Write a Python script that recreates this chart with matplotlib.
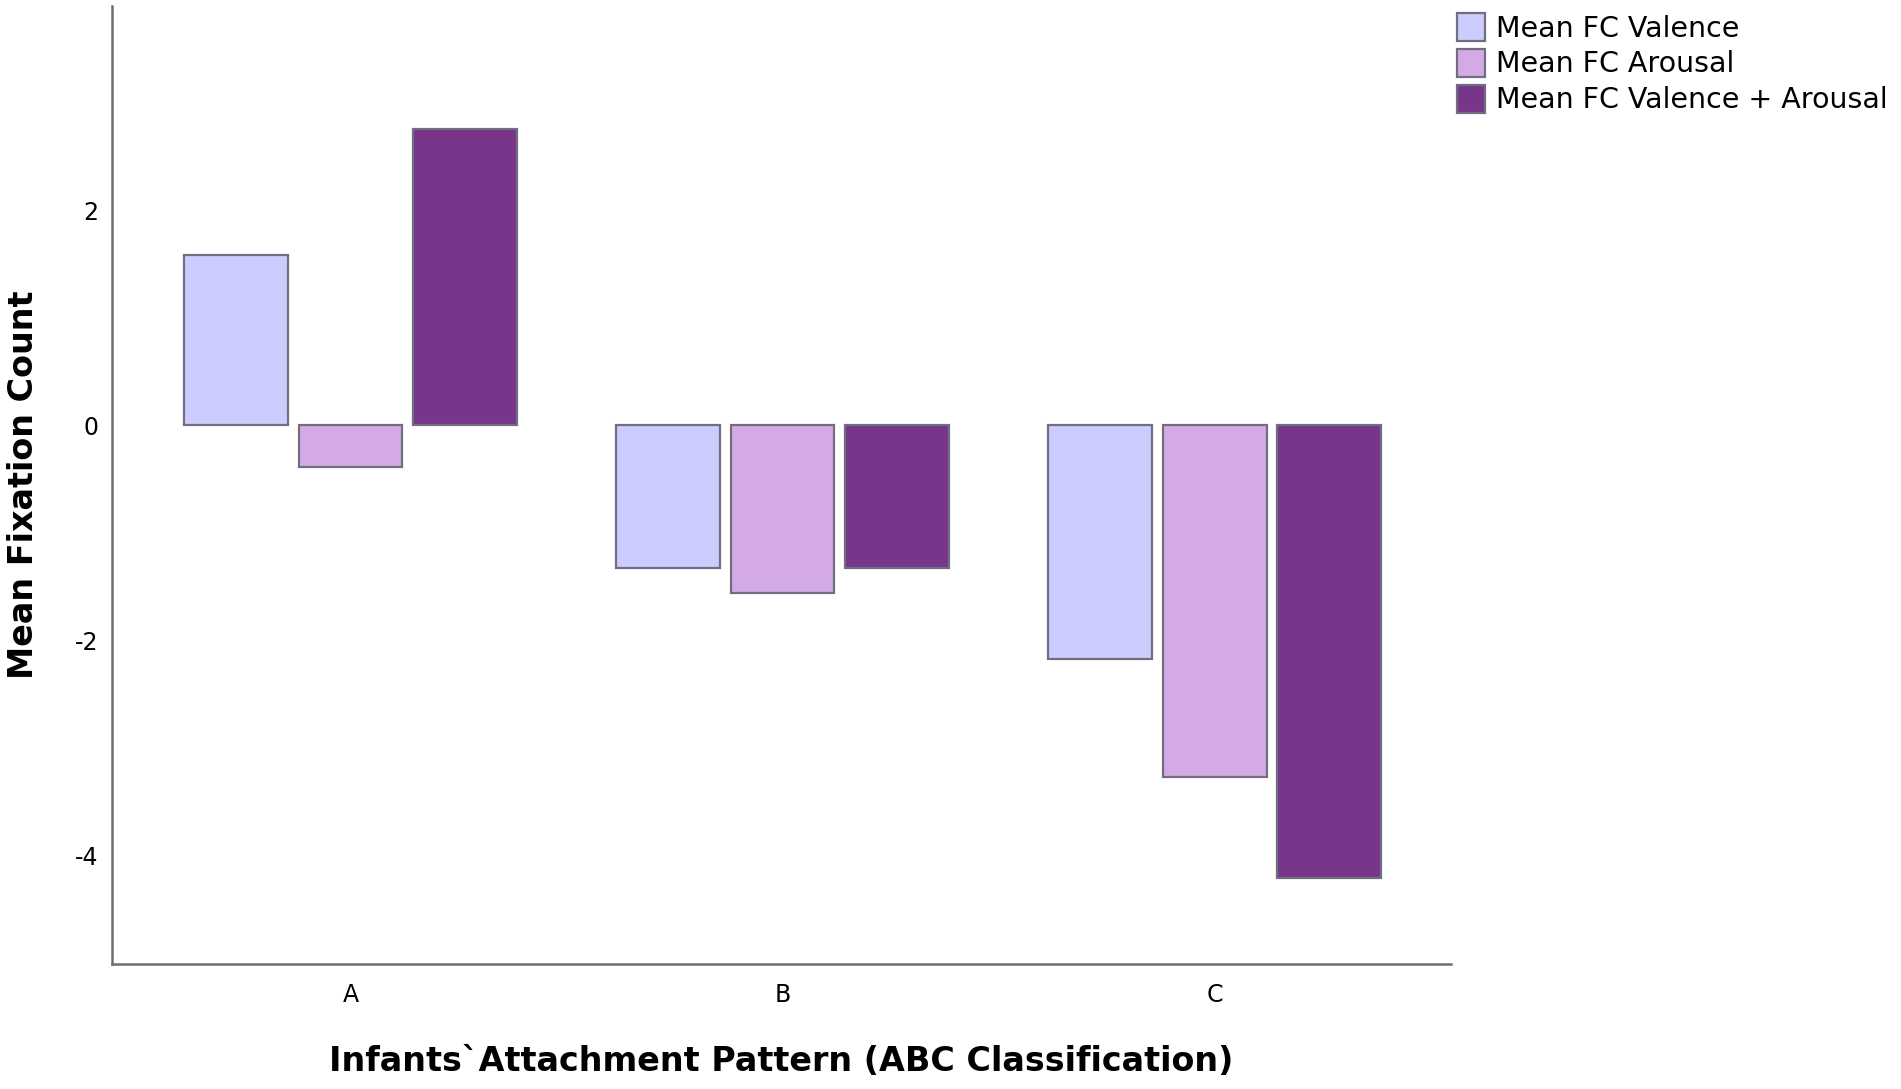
import numpy as np
import matplotlib
matplotlib.use('Agg')
import matplotlib.pyplot as plt

# group means
groups = ['A', 'B', 'C']
fc_valence = [1.58, -1.33, -2.17]
fc_arousal = [-0.39, -1.56, -3.27]
fc_val_arousal = [2.76, -1.33, -4.21]
series_names = ['Mean FC Valence', 'Mean FC Arousal', 'Mean FC Valence + Arousal']
y_ticks = [-4, -2, 0, 2]

colors = ['#ccccfe', '#d3aae5', '#78368b']
edge = '#6f6f80'

plt.rcParams['font.family'] = ['DejaVu Sans']

fig = plt.figure(figsize=(19.01, 10.89), dpi=100)
ax = fig.add_axes([0.0589, 0.1148, 0.7044, 0.8797])

x = np.arange(len(groups))
width = 0.24
step = 0.265
handles = []
for i, (vals, c) in enumerate(zip([fc_valence, fc_arousal, fc_val_arousal], colors)):
    b = ax.bar(x + (i - 1) * step, vals, width, color=c, edgecolor=edge, linewidth=1.6)
    handles.append(b)

ax.set_xlim(-0.552, 2.547)
ax.set_ylim(-5.01, 3.9)
ax.set_xticks(x)
ax.set_xticklabels(groups)
ax.set_yticks(y_ticks)
ax.set_yticklabels([str(t) for t in y_ticks])
ax.tick_params(axis='both', length=0, labelsize=17)
ax.tick_params(axis='y', pad=10)
ax.tick_params(axis='x', pad=14)

for s in ['top', 'right']:
    ax.spines[s].set_visible(False)
for s in ['left', 'bottom']:
    ax.spines[s].set_color('#707070')
    ax.spines[s].set_linewidth(1.8)

ax.set_xlabel('Infants`Attachment Pattern (ABC Classification)', fontsize=24,
              fontweight='bold', va='center')
ax.xaxis.set_label_coords(0.5, -0.102)
ax.set_ylabel('Mean Fixation Count', fontsize=24, fontweight='bold', va='center')
ax.yaxis.set_label_coords(-0.0657, 0.5)

fig.legend(handles, series_names, loc='upper left',
           bbox_to_anchor=(1457 / 1901, 1 - 13 / 1089), frameon=False,
           fontsize=20.5, borderpad=0, borderaxespad=0,
           handlelength=1.0, handleheight=1.13, labelspacing=0.22,
           handletextpad=0.36)

fig.savefig('out.png', dpi=100)
